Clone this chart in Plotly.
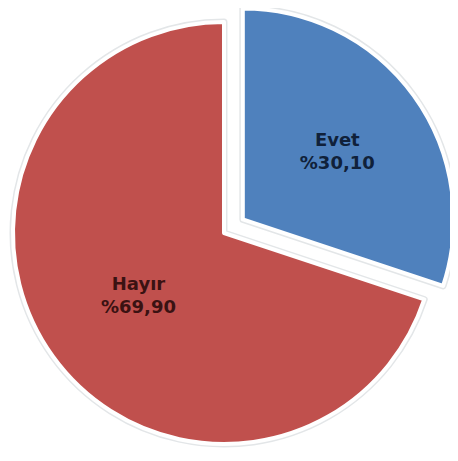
import math
import plotly.graph_objects as go

# Veriler
etiketler = ['Evet', 'Hayır']
yuzdeler = [30.10, 69.90]
renkler = ['#4F81BD', '#C0504D']
yazi_renkleri = ['#10213a', '#3a1212']

# Yerleşim (piksel) - sayfa gövdesinin 8px kenar boşluğu düşülmüş hali
W, H = 450, 453
cx, cy = 216, 225      # ana pastanın merkezi (üstten)
r = 211                # yarıçap
pull = 0.11            # Evet diliminin dışarı çekilmesi

def metin(i):
    deger = f"{yuzdeler[i]:.2f}".replace('.', ',')
    return f"<b>{etiketler[i]}</b><br><b>%{deger}</b>"

def domain(merkez_x, merkez_y):
    yb = H - merkez_y
    return dict(x=[max(0, (merkez_x - r) / W), min(1, (merkez_x + r) / W)],
                y=[max(0, (yb - r) / H), min(1, (yb + r) / H)])

# Evet diliminin açıortayı (üstten saat yönünde)
aci = math.radians(360 * yuzdeler[0] / sum(yuzdeler) / 2)
dx = pull * r * math.sin(aci)
dy = pull * r * math.cos(aci)

fig = go.Figure()

merkezler = [(cx, cy), (cx + dx, cy - dy)]
for i, (mx, my) in enumerate(merkezler):
    gorunur = 1 - i  # önce Hayır, sonra Evet
    # gölge katmanı (açık gri kenar) + beyaz kenarlı dilim
    for kenar_renk, kenar_kalinlik, yazili in [('#e3e6e8', 7, False), ('white', 4, True)]:
        slice_colors = ['rgba(0,0,0,0)'] * 2
        slice_colors[gorunur] = renkler[gorunur]
        widths = [0, 0]
        widths[gorunur] = kenar_kalinlik
        texts = ['', '']
        if yazili:
            texts[gorunur] = metin(gorunur)
        fig.add_trace(go.Pie(
            labels=etiketler,
            values=yuzdeler,
            sort=False,
            direction='clockwise',
            rotation=0,
            text=texts,
            textinfo='text',
            textposition='inside',
            insidetextorientation='horizontal',
            insidetextfont=dict(family='DejaVu Sans', size=18, color=yazi_renkleri),
            marker=dict(colors=slice_colors, line=dict(color=kenar_renk, width=widths)),
            domain=domain(mx, my),
            showlegend=False,
            hoverinfo='skip',
        ))

fig.update_layout(
    width=W,
    height=H,
    margin=dict(l=0, r=0, t=0, b=0),
    paper_bgcolor='white',
    plot_bgcolor='white',
)

fig.write_html("out.html")
